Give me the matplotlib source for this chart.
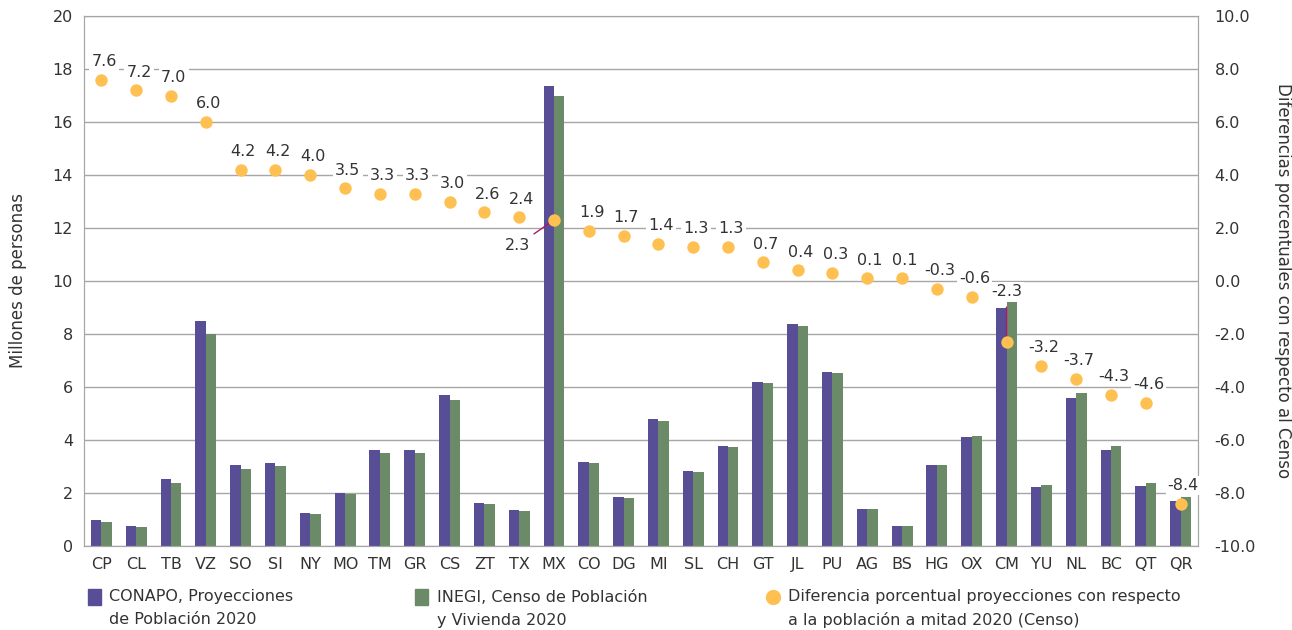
import numpy as np
import matplotlib
matplotlib.use("Agg")
import matplotlib.pyplot as plt
from matplotlib.patches import Rectangle
from matplotlib.lines import Line2D

estados = ["CP", "CL", "TB", "VZ", "SO", "SI", "NY", "MO", "TM", "GR", "CS", "ZT", "TX",
           "MX", "CO", "DG", "MI", "SL", "CH", "GT", "JL", "PU", "AG", "BS", "HG", "OX",
           "CM", "YU", "NL", "BC", "QT", "QR"]
# millones de personas
conapo = [0.97, 0.75, 2.53, 8.48, 3.04, 3.14, 1.25, 2.01, 3.61, 3.61, 5.70, 1.64, 1.35,
          17.37, 3.18, 1.85, 4.78, 2.83, 3.77, 6.20, 8.36, 6.57, 1.40, 0.77, 3.06, 4.12,
          8.97, 2.24, 5.58, 3.61, 2.26, 1.70]
inegi = [0.90, 0.71, 2.37, 8.01, 2.92, 3.02, 1.21, 1.95, 3.50, 3.50, 5.52, 1.59, 1.31,
         16.98, 3.12, 1.80, 4.71, 2.79, 3.72, 6.14, 8.32, 6.53, 1.40, 0.77, 3.06, 4.15,
         9.19, 2.30, 5.79, 3.77, 2.36, 1.86]
# diferencia porcentual
diferencia = [7.6, 7.2, 7.0, 6.0, 4.2, 4.2, 4.0, 3.5, 3.3, 3.3, 3.0, 2.6, 2.4,
              2.3, 1.9, 1.7, 1.4, 1.3, 1.3, 0.7, 0.4, 0.3, 0.1, 0.1, -0.3, -0.6,
              -2.3, -3.2, -3.7, -4.3, -4.6, -8.4]

morado = "#584E95"
verde = "#6B8A68"
naranja = "#FFC052"
magenta = "#B0186E"
texto = "#333333"
gris = "#A6A6A6"

plt.rcParams["font.family"] = ["DejaVu Sans"]
plt.rcParams["text.color"] = texto

fig = plt.figure(figsize=(12.92, 6.30), dpi=100)
ax = fig.add_axes([84/1292, 1 - 546/630, (1198-84)/1292, (546-16)/630])

x = np.arange(len(estados))
w = 0.3
ax.bar(x - w/2, conapo, w, color=morado, zorder=2)
ax.bar(x + w/2, inegi, w, color=verde, zorder=2)

ax.set_xlim(-0.5, len(estados) - 0.5)
ax.set_ylim(0, 20)
ax.set_yticks(np.arange(0, 21, 2))
ax.set_xticks(x)
ax.set_xticklabels(estados)
ax.set_axisbelow(True)
ax.grid(axis="y", color=gris, lw=1)
for s in ax.spines.values():
    s.set_color(gris)
ax.tick_params(length=0, labelsize=11.5, colors=texto, pad=8)
ax.set_ylabel("Millones de personas", fontsize=12, color=texto, labelpad=18)

ax2 = ax.twinx()
ax2.set_ylim(-10, 10)
ax2.set_yticks(np.arange(-10, 11, 2))
ax2.set_yticklabels([f"{v:.1f}" for v in np.arange(-10, 11, 2)])
ax2.tick_params(length=0, labelsize=11.5, colors=texto, pad=12)
for s in ax2.spines.values():
    s.set_color(gris)
ax2.set_ylabel("Diferencias porcentuales con respecto al Censo", fontsize=12,
               color=texto, rotation=-90, labelpad=26)

ax2.scatter(x, diferencia, s=80, color=naranja, zorder=4, linewidths=0)

caja = dict(facecolor="white", edgecolor="none", pad=1.5)
for i, v in enumerate(diferencia):
    etiqueta = f"{v:.1f}"
    if estados[i] == "MX":
        ax2.annotate(etiqueta, (x[i], v), xytext=(-26, -18), textcoords="offset points",
                     ha="center", va="center", fontsize=11.5, bbox=caja,
                     arrowprops=dict(arrowstyle="-", color=magenta, lw=1,
                                     shrinkA=2, shrinkB=3))
    elif estados[i] == "CM":
        ax2.annotate(etiqueta, (x[i], v), xytext=(0, 36), textcoords="offset points",
                     ha="center", va="center", fontsize=11.5, bbox=caja,
                     arrowprops=dict(arrowstyle="-", color=magenta, lw=1,
                                     shrinkA=4, shrinkB=3))
    else:
        ax2.annotate(etiqueta, (x[i], v), xytext=(2, 13), textcoords="offset points",
                     ha="center", va="center", fontsize=11.5, bbox=caja)

# leyenda
def fx(px):
    return px / 1292

def fy(py):
    return 1 - py / 630

fig.add_artist(Rectangle((fx(88), fy(605)), 13/1292, 16/630, color=morado,
                         transform=fig.transFigure))
fig.text(fx(109), fy(597), "CONAPO, Proyecciones", fontsize=11.5, va="center")
fig.text(fx(109), fy(620), "de Población 2020", fontsize=11.5, va="center")

fig.add_artist(Rectangle((fx(415), fy(605)), 13/1292, 16/630, color=verde,
                         transform=fig.transFigure))
fig.text(fx(437), fy(597), "INEGI, Censo de Población", fontsize=11.5, va="center")
fig.text(fx(437), fy(620), "y Vivienda 2020", fontsize=11.5, va="center")

fig.add_artist(Line2D([fx(773)], [fy(597)], marker="o", markersize=11, color=naranja,
                      markeredgewidth=0, transform=fig.transFigure))
fig.text(fx(788), fy(597), "Diferencia porcentual proyecciones con respecto",
         fontsize=11.5, va="center")
fig.text(fx(788), fy(620), "a la población a mitad 2020 (Censo)", fontsize=11.5,
         va="center")

fig.savefig("out.png", dpi=100)
